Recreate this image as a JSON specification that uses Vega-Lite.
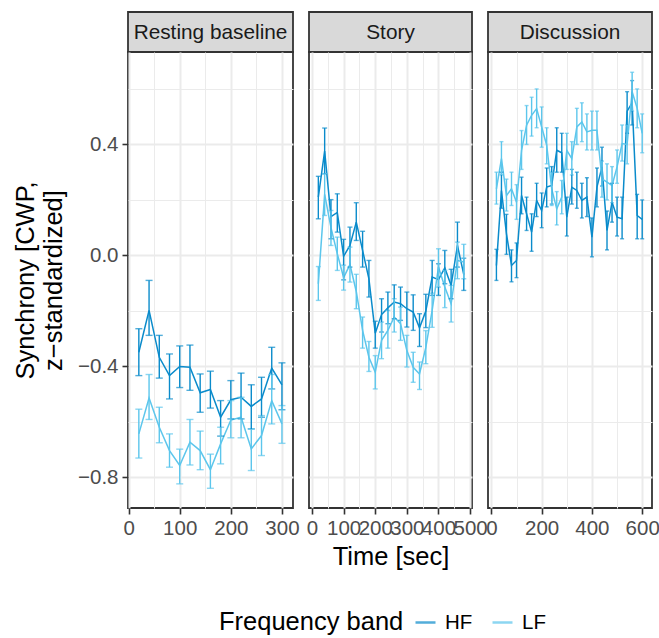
{
  "$schema": "https://vega.github.io/schema/vega-lite/v6.json",
  "padding": {"left": 12, "top": 11, "right": 0, "bottom": 5},
  "background": "white",
  "datasets": {
    "d": [
      {"panel":"Resting baseline","band":"HF","time":20,"sync":-0.349,"lo":-0.433,"hi":-0.264},
      {"panel":"Resting baseline","band":"HF","time":40,"sync":-0.198,"lo":-0.288,"hi":-0.090},
      {"panel":"Resting baseline","band":"HF","time":60,"sync":-0.367,"lo":-0.442,"hi":-0.288},
      {"panel":"Resting baseline","band":"HF","time":80,"sync":-0.433,"lo":-0.517,"hi":-0.355},
      {"panel":"Resting baseline","band":"HF","time":100,"sync":-0.400,"lo":-0.476,"hi":-0.326},
      {"panel":"Resting baseline","band":"HF","time":120,"sync":-0.403,"lo":-0.486,"hi":-0.323},
      {"panel":"Resting baseline","band":"HF","time":140,"sync":-0.495,"lo":-0.565,"hi":-0.427},
      {"panel":"Resting baseline","band":"HF","time":160,"sync":-0.483,"lo":-0.550,"hi":-0.417},
      {"panel":"Resting baseline","band":"HF","time":180,"sync":-0.583,"lo":-0.651,"hi":-0.523},
      {"panel":"Resting baseline","band":"HF","time":200,"sync":-0.520,"lo":-0.589,"hi":-0.451},
      {"panel":"Resting baseline","band":"HF","time":220,"sync":-0.511,"lo":-0.589,"hi":-0.424},
      {"panel":"Resting baseline","band":"HF","time":240,"sync":-0.544,"lo":-0.625,"hi":-0.466},
      {"panel":"Resting baseline","band":"HF","time":260,"sync":-0.517,"lo":-0.583,"hi":-0.439},
      {"panel":"Resting baseline","band":"HF","time":280,"sync":-0.406,"lo":-0.481,"hi":-0.331},
      {"panel":"Resting baseline","band":"HF","time":300,"sync":-0.466,"lo":-0.556,"hi":-0.387},
      {"panel":"Resting baseline","band":"LF","time":20,"sync":-0.643,"lo":-0.730,"hi":-0.554},
      {"panel":"Resting baseline","band":"LF","time":40,"sync":-0.514,"lo":-0.591,"hi":-0.429},
      {"panel":"Resting baseline","band":"LF","time":60,"sync":-0.619,"lo":-0.675,"hi":-0.547},
      {"panel":"Resting baseline","band":"LF","time":80,"sync":-0.703,"lo":-0.763,"hi":-0.643},
      {"panel":"Resting baseline","band":"LF","time":100,"sync":-0.757,"lo":-0.823,"hi":-0.698},
      {"panel":"Resting baseline","band":"LF","time":120,"sync":-0.673,"lo":-0.755,"hi":-0.591},
      {"panel":"Resting baseline","band":"LF","time":140,"sync":-0.703,"lo":-0.772,"hi":-0.633},
      {"panel":"Resting baseline","band":"LF","time":160,"sync":-0.772,"lo":-0.839,"hi":-0.716},
      {"panel":"Resting baseline","band":"LF","time":180,"sync":-0.679,"lo":-0.751,"hi":-0.619},
      {"panel":"Resting baseline","band":"LF","time":200,"sync":-0.593,"lo":-0.657,"hi":-0.523},
      {"panel":"Resting baseline","band":"LF","time":220,"sync":-0.583,"lo":-0.657,"hi":-0.511},
      {"panel":"Resting baseline","band":"LF","time":240,"sync":-0.697,"lo":-0.775,"hi":-0.625},
      {"panel":"Resting baseline","band":"LF","time":260,"sync":-0.649,"lo":-0.721,"hi":-0.577},
      {"panel":"Resting baseline","band":"LF","time":280,"sync":-0.523,"lo":-0.607,"hi":-0.429},
      {"panel":"Resting baseline","band":"LF","time":300,"sync":-0.607,"lo":-0.677,"hi":-0.541},

      {"panel":"Story","band":"HF","time":20,"sync":0.210,"lo":0.132,"hi":0.285},
      {"panel":"Story","band":"HF","time":40,"sync":0.376,"lo":0.294,"hi":0.459},
      {"panel":"Story","band":"HF","time":60,"sync":0.140,"lo":0.060,"hi":0.201},
      {"panel":"Story","band":"HF","time":80,"sync":0.155,"lo":0.084,"hi":0.222},
      {"panel":"Story","band":"HF","time":100,"sync":-0.003,"lo":-0.088,"hi":0.058},
      {"panel":"Story","band":"HF","time":120,"sync":0.036,"lo":-0.042,"hi":0.102},
      {"panel":"Story","band":"HF","time":140,"sync":0.120,"lo":0.054,"hi":0.190},
      {"panel":"Story","band":"HF","time":160,"sync":0.018,"lo":-0.042,"hi":0.087},
      {"panel":"Story","band":"HF","time":180,"sync":-0.084,"lo":-0.150,"hi":-0.018},
      {"panel":"Story","band":"HF","time":200,"sync":-0.280,"lo":-0.334,"hi":-0.237},
      {"panel":"Story","band":"HF","time":220,"sync":-0.213,"lo":-0.276,"hi":-0.156},
      {"panel":"Story","band":"HF","time":240,"sync":-0.189,"lo":-0.246,"hi":-0.132},
      {"panel":"Story","band":"HF","time":260,"sync":-0.168,"lo":-0.228,"hi":-0.106},
      {"panel":"Story","band":"HF","time":280,"sync":-0.174,"lo":-0.234,"hi":-0.114},
      {"panel":"Story","band":"HF","time":300,"sync":-0.192,"lo":-0.258,"hi":-0.132},
      {"panel":"Story","band":"HF","time":320,"sync":-0.204,"lo":-0.270,"hi":-0.142},
      {"panel":"Story","band":"HF","time":340,"sync":-0.261,"lo":-0.328,"hi":-0.210},
      {"panel":"Story","band":"HF","time":360,"sync":-0.200,"lo":-0.260,"hi":-0.140},
      {"panel":"Story","band":"HF","time":380,"sync":-0.078,"lo":-0.144,"hi":-0.018},
      {"panel":"Story","band":"HF","time":400,"sync":-0.087,"lo":-0.144,"hi":-0.030},
      {"panel":"Story","band":"HF","time":420,"sync":-0.045,"lo":-0.102,"hi":0.018},
      {"panel":"Story","band":"HF","time":440,"sync":-0.108,"lo":-0.156,"hi":-0.050},
      {"panel":"Story","band":"HF","time":460,"sync":0.036,"lo":-0.042,"hi":0.120},
      {"panel":"Story","band":"HF","time":480,"sync":-0.069,"lo":-0.126,"hi":-0.010},
      {"panel":"Story","band":"LF","time":20,"sync":-0.102,"lo":-0.162,"hi":-0.040},
      {"panel":"Story","band":"LF","time":40,"sync":0.220,"lo":0.144,"hi":0.295},
      {"panel":"Story","band":"LF","time":60,"sync":0.100,"lo":0.036,"hi":0.162},
      {"panel":"Story","band":"LF","time":80,"sync":0.006,"lo":-0.054,"hi":0.066},
      {"panel":"Story","band":"LF","time":100,"sync":-0.080,"lo":-0.125,"hi":-0.035},
      {"panel":"Story","band":"LF","time":120,"sync":-0.033,"lo":-0.096,"hi":0.030},
      {"panel":"Story","band":"LF","time":140,"sync":-0.130,"lo":-0.192,"hi":-0.068},
      {"panel":"Story","band":"LF","time":160,"sync":-0.270,"lo":-0.334,"hi":-0.222},
      {"panel":"Story","band":"LF","time":180,"sync":-0.367,"lo":-0.418,"hi":-0.310},
      {"panel":"Story","band":"LF","time":200,"sync":-0.421,"lo":-0.481,"hi":-0.361},
      {"panel":"Story","band":"LF","time":220,"sync":-0.306,"lo":-0.372,"hi":-0.240},
      {"panel":"Story","band":"LF","time":240,"sync":-0.270,"lo":-0.334,"hi":-0.198},
      {"panel":"Story","band":"LF","time":260,"sync":-0.222,"lo":-0.276,"hi":-0.156},
      {"panel":"Story","band":"LF","time":280,"sync":-0.246,"lo":-0.306,"hi":-0.186},
      {"panel":"Story","band":"LF","time":300,"sync":-0.343,"lo":-0.402,"hi":-0.288},
      {"panel":"Story","band":"LF","time":320,"sync":-0.403,"lo":-0.457,"hi":-0.349},
      {"panel":"Story","band":"LF","time":340,"sync":-0.427,"lo":-0.483,"hi":-0.384},
      {"panel":"Story","band":"LF","time":360,"sync":-0.331,"lo":-0.390,"hi":-0.271},
      {"panel":"Story","band":"LF","time":380,"sync":-0.198,"lo":-0.259,"hi":-0.136},
      {"panel":"Story","band":"LF","time":400,"sync":-0.042,"lo":-0.114,"hi":0.024},
      {"panel":"Story","band":"LF","time":420,"sync":-0.114,"lo":-0.188,"hi":-0.054},
      {"panel":"Story","band":"LF","time":440,"sync":-0.174,"lo":-0.240,"hi":-0.108},
      {"panel":"Story","band":"LF","time":460,"sync":-0.018,"lo":-0.084,"hi":0.048},
      {"panel":"Story","band":"LF","time":480,"sync":-0.024,"lo":-0.084,"hi":0.040},

      {"panel":"Discussion","band":"HF","time":20,"sync":-0.036,"lo":-0.090,"hi":0.022},
      {"panel":"Discussion","band":"HF","time":40,"sync":0.234,"lo":0.170,"hi":0.300},
      {"panel":"Discussion","band":"HF","time":60,"sync":0.078,"lo":0.004,"hi":0.148},
      {"panel":"Discussion","band":"HF","time":80,"sync":-0.036,"lo":-0.095,"hi":0.020},
      {"panel":"Discussion","band":"HF","time":100,"sync":-0.018,"lo":-0.080,"hi":0.045},
      {"panel":"Discussion","band":"HF","time":120,"sync":0.216,"lo":0.150,"hi":0.282},
      {"panel":"Discussion","band":"HF","time":140,"sync":0.150,"lo":0.090,"hi":0.210},
      {"panel":"Discussion","band":"HF","time":160,"sync":0.084,"lo":0.015,"hi":0.150},
      {"panel":"Discussion","band":"HF","time":180,"sync":0.198,"lo":0.140,"hi":0.260},
      {"panel":"Discussion","band":"HF","time":200,"sync":0.162,"lo":0.100,"hi":0.225},
      {"panel":"Discussion","band":"HF","time":220,"sync":0.246,"lo":0.175,"hi":0.315},
      {"panel":"Discussion","band":"HF","time":240,"sync":0.252,"lo":0.185,"hi":0.320},
      {"panel":"Discussion","band":"HF","time":260,"sync":0.379,"lo":0.300,"hi":0.460},
      {"panel":"Discussion","band":"HF","time":280,"sync":0.370,"lo":0.300,"hi":0.440},
      {"panel":"Discussion","band":"HF","time":300,"sync":0.138,"lo":0.070,"hi":0.210},
      {"panel":"Discussion","band":"HF","time":320,"sync":0.246,"lo":0.185,"hi":0.310},
      {"panel":"Discussion","band":"HF","time":340,"sync":0.234,"lo":0.170,"hi":0.300},
      {"panel":"Discussion","band":"HF","time":360,"sync":0.198,"lo":0.135,"hi":0.260},
      {"panel":"Discussion","band":"HF","time":380,"sync":0.210,"lo":0.140,"hi":0.280},
      {"panel":"Discussion","band":"HF","time":400,"sync":0.066,"lo":-0.005,"hi":0.135},
      {"panel":"Discussion","band":"HF","time":420,"sync":0.246,"lo":0.175,"hi":0.315},
      {"panel":"Discussion","band":"HF","time":440,"sync":0.319,"lo":0.250,"hi":0.390},
      {"panel":"Discussion","band":"HF","time":460,"sync":0.090,"lo":0.020,"hi":0.160},
      {"panel":"Discussion","band":"HF","time":480,"sync":0.192,"lo":0.120,"hi":0.260},
      {"panel":"Discussion","band":"HF","time":500,"sync":0.138,"lo":0.070,"hi":0.210},
      {"panel":"Discussion","band":"HF","time":520,"sync":0.132,"lo":0.060,"hi":0.210},
      {"panel":"Discussion","band":"HF","time":540,"sync":0.520,"lo":0.440,"hi":0.590},
      {"panel":"Discussion","band":"HF","time":560,"sync":0.550,"lo":0.470,"hi":0.630},
      {"panel":"Discussion","band":"HF","time":580,"sync":0.144,"lo":0.060,"hi":0.220},
      {"panel":"Discussion","band":"HF","time":600,"sync":0.130,"lo":0.060,"hi":0.200},
      {"panel":"Discussion","band":"LF","time":20,"sync":0.240,"lo":0.185,"hi":0.300},
      {"panel":"Discussion","band":"LF","time":40,"sync":0.349,"lo":0.290,"hi":0.410},
      {"panel":"Discussion","band":"LF","time":60,"sync":0.216,"lo":0.160,"hi":0.275},
      {"panel":"Discussion","band":"LF","time":80,"sync":0.240,"lo":0.180,"hi":0.300},
      {"panel":"Discussion","band":"LF","time":100,"sync":0.192,"lo":0.130,"hi":0.255},
      {"panel":"Discussion","band":"LF","time":120,"sync":0.379,"lo":0.310,"hi":0.450},
      {"panel":"Discussion","band":"LF","time":140,"sync":0.469,"lo":0.400,"hi":0.540},
      {"panel":"Discussion","band":"LF","time":160,"sync":0.505,"lo":0.430,"hi":0.570},
      {"panel":"Discussion","band":"LF","time":180,"sync":0.529,"lo":0.460,"hi":0.600},
      {"panel":"Discussion","band":"LF","time":200,"sync":0.463,"lo":0.390,"hi":0.535},
      {"panel":"Discussion","band":"LF","time":220,"sync":0.397,"lo":0.330,"hi":0.460},
      {"panel":"Discussion","band":"LF","time":240,"sync":0.240,"lo":0.180,"hi":0.300},
      {"panel":"Discussion","band":"LF","time":260,"sync":0.168,"lo":0.110,"hi":0.230},
      {"panel":"Discussion","band":"LF","time":280,"sync":0.210,"lo":0.150,"hi":0.270},
      {"panel":"Discussion","band":"LF","time":300,"sync":0.379,"lo":0.310,"hi":0.440},
      {"panel":"Discussion","band":"LF","time":320,"sync":0.349,"lo":0.290,"hi":0.410},
      {"panel":"Discussion","band":"LF","time":340,"sync":0.463,"lo":0.400,"hi":0.530},
      {"panel":"Discussion","band":"LF","time":360,"sync":0.481,"lo":0.410,"hi":0.550},
      {"panel":"Discussion","band":"LF","time":380,"sync":0.445,"lo":0.380,"hi":0.510},
      {"panel":"Discussion","band":"LF","time":400,"sync":0.451,"lo":0.380,"hi":0.520},
      {"panel":"Discussion","band":"LF","time":420,"sync":0.451,"lo":0.380,"hi":0.520},
      {"panel":"Discussion","band":"LF","time":440,"sync":0.276,"lo":0.210,"hi":0.340},
      {"panel":"Discussion","band":"LF","time":460,"sync":0.264,"lo":0.200,"hi":0.330},
      {"panel":"Discussion","band":"LF","time":480,"sync":0.252,"lo":0.190,"hi":0.320},
      {"panel":"Discussion","band":"LF","time":500,"sync":0.319,"lo":0.260,"hi":0.380},
      {"panel":"Discussion","band":"LF","time":520,"sync":0.403,"lo":0.340,"hi":0.470},
      {"panel":"Discussion","band":"LF","time":540,"sync":0.400,"lo":0.330,"hi":0.470},
      {"panel":"Discussion","band":"LF","time":560,"sync":0.590,"lo":0.520,"hi":0.660},
      {"panel":"Discussion","band":"LF","time":580,"sync":0.530,"lo":0.460,"hi":0.600},
      {"panel":"Discussion","band":"LF","time":600,"sync":0.440,"lo":0.370,"hi":0.510}
    ]
  },
  "columns": 3,
  "spacing": {"row": 0, "column": 16},
  "bounds": "flush",
  "concat": [
    {
      "width": 165, "height": 40,
      "data": {"values": [{"label": "Resting baseline"}]},
      "view": {"fill": "#d9d9d9", "stroke": "#333333", "strokeWidth": 1.8},
      "mark": {"type": "text", "fontSize": 20.8, "color": "#1a1a1a", "baseline": "middle", "align": "center", "dy": 1},
      "encoding": {"text": {"field": "label", "type": "nominal"}}
    },
    {
      "width": 163, "height": 40,
      "data": {"values": [{"label": "Story"}]},
      "view": {"fill": "#d9d9d9", "stroke": "#333333", "strokeWidth": 1.8},
      "mark": {"type": "text", "fontSize": 20.8, "color": "#1a1a1a", "baseline": "middle", "align": "center", "dy": 1},
      "encoding": {"text": {"field": "label", "type": "nominal"}}
    },
    {
      "width": 164, "height": 40,
      "data": {"values": [{"label": "Discussion"}]},
      "view": {"fill": "#d9d9d9", "stroke": "#333333", "strokeWidth": 1.8},
      "mark": {"type": "text", "fontSize": 20.8, "color": "#1a1a1a", "baseline": "middle", "align": "center", "dy": 1},
      "encoding": {"text": {"field": "label", "type": "nominal"}}
    },
    {
      "width": 165, "height": 456,
      "data": {"name": "d"},
      "transform": [{"filter": "datum.panel == 'Resting baseline'"}],
      "encoding": {
        "x": {"field": "time", "type": "quantitative",
          "scale": {"domain": [-1.2, 321.6], "nice": false, "zero": false},
          "axis": {"title": null, "values": [0, 50, 100, 150, 200, 250, 300],
            "labelExpr": "datum.value % 100 == 0 ? datum.label : ''",
            "gridWidth": {"condition": {"test": "datum.value % 100 == 0", "value": 2}, "value": 1},
            "tickOpacity": {"condition": {"test": "datum.value % 100 == 0", "value": 1}, "value": 0}}},
        "color": {"field": "band", "type": "nominal", "title": "Frequency band",
          "scale": {"domain": ["HF", "LF"], "range": ["#0a8bcb", "#5cc6ec"]}}
      },
      "layer": [
        {"mark": {"type": "line", "strokeWidth": 1.5},
         "encoding": {"y": {"field": "sync", "type": "quantitative",
           "scale": {"domain": [-0.91, 0.733], "nice": false, "zero": false},
           "axis": {"title": ["Synchrony [CWP,", "z−standardized]"], "titleLineHeight": 28, "titlePadding": 11,
             "values": [-0.8, -0.6, -0.4, -0.2, 0, 0.2, 0.4, 0.6],
             "labelExpr": "round(datum.value*10) % 4 == 0 ? replace(format(datum.value, '.1f'), '-', '−') : ''",
             "gridWidth": {"condition": {"test": "round(datum.value*10) % 4 == 0", "value": 2}, "value": 1},
             "tickOpacity": {"condition": {"test": "round(datum.value*10) % 4 == 0", "value": 1}, "value": 0}}}}},
        {"mark": {"type": "errorbar", "ticks": {"size": 7}, "thickness": 1.4},
         "encoding": {"y": {"field": "lo", "type": "quantitative", "title": ["Synchrony [CWP,", "z−standardized]"]}, "y2": {"field": "hi"}}}
      ]
    },
    {
      "width": 163, "height": 456,
      "data": {"name": "d"},
      "transform": [{"filter": "datum.panel == 'Story'"}],
      "encoding": {
        "x": {"field": "time", "type": "quantitative",
          "scale": {"domain": [-9.5, 506], "nice": false, "zero": false},
          "axis": {"title": "Time [sec]", "titlePadding": 6, "values": [0, 50, 100, 150, 200, 250, 300, 350, 400, 450, 500],
            "labelExpr": "datum.value % 100 == 0 ? datum.label : ''",
            "gridWidth": {"condition": {"test": "datum.value % 100 == 0", "value": 2}, "value": 1},
            "tickOpacity": {"condition": {"test": "datum.value % 100 == 0", "value": 1}, "value": 0}}},
        "color": {"field": "band", "type": "nominal", "title": "Frequency band",
          "scale": {"domain": ["HF", "LF"], "range": ["#0a8bcb", "#5cc6ec"]}}
      },
      "layer": [
        {"mark": {"type": "line", "strokeWidth": 1.5},
         "encoding": {"y": {"field": "sync", "type": "quantitative",
           "scale": {"domain": [-0.91, 0.733], "nice": false, "zero": false},
           "axis": {"title": null, "labels": false, "ticks": false,
             "values": [-0.8, -0.6, -0.4, -0.2, 0, 0.2, 0.4, 0.6],
             "gridWidth": {"condition": {"test": "round(datum.value*10) % 4 == 0", "value": 2}, "value": 1}}}}},
        {"mark": {"type": "errorbar", "ticks": {"size": 5}, "thickness": 1.4},
         "encoding": {"y": {"field": "lo", "type": "quantitative", "title": null}, "y2": {"field": "hi"}}}
      ]
    },
    {
      "width": 164, "height": 456,
      "data": {"name": "d"},
      "transform": [{"filter": "datum.panel == 'Discussion'"}],
      "encoding": {
        "x": {"field": "time", "type": "quantitative",
          "scale": {"domain": [-13.5, 639], "nice": false, "zero": false},
          "axis": {"title": null, "values": [0, 100, 200, 300, 400, 500, 600],
            "labelExpr": "datum.value % 200 == 0 ? datum.label : ''",
            "gridWidth": {"condition": {"test": "datum.value % 200 == 0", "value": 2}, "value": 1},
            "tickOpacity": {"condition": {"test": "datum.value % 200 == 0", "value": 1}, "value": 0}}},
        "color": {"field": "band", "type": "nominal", "title": "Frequency band",
          "scale": {"domain": ["HF", "LF"], "range": ["#0a8bcb", "#5cc6ec"]}}
      },
      "layer": [
        {"mark": {"type": "line", "strokeWidth": 1.5},
         "encoding": {"y": {"field": "sync", "type": "quantitative",
           "scale": {"domain": [-0.91, 0.733], "nice": false, "zero": false},
           "axis": {"title": null, "labels": false, "ticks": false,
             "values": [-0.8, -0.6, -0.4, -0.2, 0, 0.2, 0.4, 0.6],
             "gridWidth": {"condition": {"test": "round(datum.value*10) % 4 == 0", "value": 2}, "value": 1}}}}},
        {"mark": {"type": "errorbar", "ticks": {"size": 4}, "thickness": 1.4},
         "encoding": {"y": {"field": "lo", "type": "quantitative", "title": null}, "y2": {"field": "hi"}}}
      ]
    }
  ],
  "config": {
    "font": "Liberation Sans",
    "view": {"stroke": "#333333", "strokeWidth": 1.8},
    "axis": {"domain": false, "labelColor": "#4d4d4d", "labelFontSize": 20.5, "labelFont": "Liberation Sans",
      "labelFlush": false, "labelOverlap": false, "labelPadding": 4,
      "tickColor": "#333333", "tickSize": 6, "tickWidth": 1.6,
      "gridColor": "#ebebeb", "titleFontSize": 25.5, "titleFontWeight": "normal", "titleColor": "#000000", "titleFont": "Liberation Sans"},
    "legend": {"orient": "none", "legendX": 91, "legendY": 599, "direction": "horizontal", "titleOrient": "left",
      "titleFontSize": 25.5, "titleFontWeight": "normal", "titleColor": "#000000", "titlePadding": 10, "titleLimit": 400,
      "labelFontSize": 20.5, "labelColor": "#000000", "symbolType": "stroke", "symbolSize": 400, "symbolStrokeWidth": 2.5,
      "columnPadding": 14, "labelOffset": 8}
  }
}
